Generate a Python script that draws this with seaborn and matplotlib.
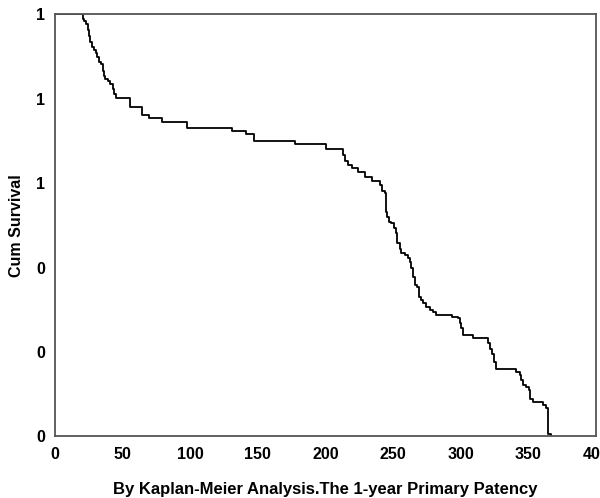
import matplotlib
matplotlib.use("Agg")
import matplotlib.pyplot as plt
from matplotlib.ticker import FormatStrFormatter, MultipleLocator
import pandas as pd
import seaborn as sns

sns.set_theme(style="white")
plt.rcParams['font.family'] = ['Liberation Sans', 'DejaVu Sans']

# Kaplan-Meier step points (days, cumulative survival)
times = [0, 20.2, 21.5, 22.7, 23.9, 25.0, 25.9, 26.9, 28.5, 30.0, 31.1, 32.1, 33.9, 35.0,
         35.8, 37.0, 38.7, 40.5, 42.4, 43.7, 45.0, 55.6, 64.4, 69.6, 79.3, 97.4, 131.1,
         141.5, 147.4, 177.8, 200.7, 213.0, 214.1, 216.3, 219.3, 223.7, 228.9, 234.1,
         240.0, 241.5, 243.7, 244.4, 245.4, 246.9, 248.7, 250.4, 251.9, 252.8, 254.8,
         256.1, 258.5, 261.0, 262.2, 263.5, 264.7, 265.9, 267.6, 269.1, 270.9, 272.1,
         274.6, 277.0, 279.5, 281.5, 293.9, 298.0, 299.3, 300.5, 301.5, 309.1, 320.2,
         322.0, 323.5, 324.4, 325.9, 341.3, 343.7, 345.0, 346.1, 348.7, 350.6, 351.6,
         353.6, 361.0, 363.5, 364.7, 367.2]
survival = [1.0, 0.990, 0.984, 0.978, 0.962, 0.950, 0.934, 0.922, 0.916, 0.908, 0.899, 0.887,
            0.883, 0.867, 0.855, 0.848, 0.842, 0.836, 0.824, 0.812, 0.802, 0.780, 0.761,
            0.754, 0.746, 0.730, 0.723, 0.716, 0.699, 0.692, 0.682, 0.667, 0.652, 0.642,
            0.635, 0.626, 0.614, 0.604, 0.595, 0.581, 0.576, 0.531, 0.519, 0.507, 0.505,
            0.493, 0.483, 0.457, 0.445, 0.434, 0.429, 0.422, 0.412, 0.400, 0.377, 0.358,
            0.353, 0.329, 0.322, 0.315, 0.306, 0.299, 0.294, 0.287, 0.282, 0.280, 0.268,
            0.256, 0.239, 0.232, 0.220, 0.208, 0.196, 0.176, 0.160, 0.152, 0.145, 0.133,
            0.121, 0.117, 0.109, 0.089, 0.081, 0.073, 0.066, 0.006, 0.0]

df = pd.DataFrame({"time": times, "survival": survival})

fig = plt.figure(figsize=(6.0, 4.98), dpi=100)
ax = fig.add_axes([0.092, 0.124, 0.901, 0.847])

sns.lineplot(data=df, x="time", y="survival", drawstyle="steps-post",
             color="black", linewidth=1.3, ax=ax)

ax.set_xlim(0, 400)
ax.set_ylim(0, 1)
ax.xaxis.set_major_locator(MultipleLocator(50))
ax.yaxis.set_major_locator(MultipleLocator(0.2))
ax.yaxis.set_major_formatter(FormatStrFormatter('%.0f'))
ax.tick_params(length=0, labelsize=11.5, colors="black", labelcolor="black")
ax.tick_params(axis="x", pad=8)
ax.tick_params(axis="y", pad=7)
for lbl in ax.get_xticklabels() + ax.get_yticklabels():
    lbl.set_fontweight("bold")

for s in ax.spines.values():
    s.set_color("#555555")
    s.set_linewidth(1.3)

ax.set_xlabel("By Kaplan-Meier Analysis.The 1-year Primary Patency",
              fontsize=12, fontweight="bold", color="black", labelpad=14)
ax.set_ylabel("Cum Survival", fontsize=11.5, fontweight="bold", color="black", labelpad=9)

fig.savefig("out.png", dpi=100)
